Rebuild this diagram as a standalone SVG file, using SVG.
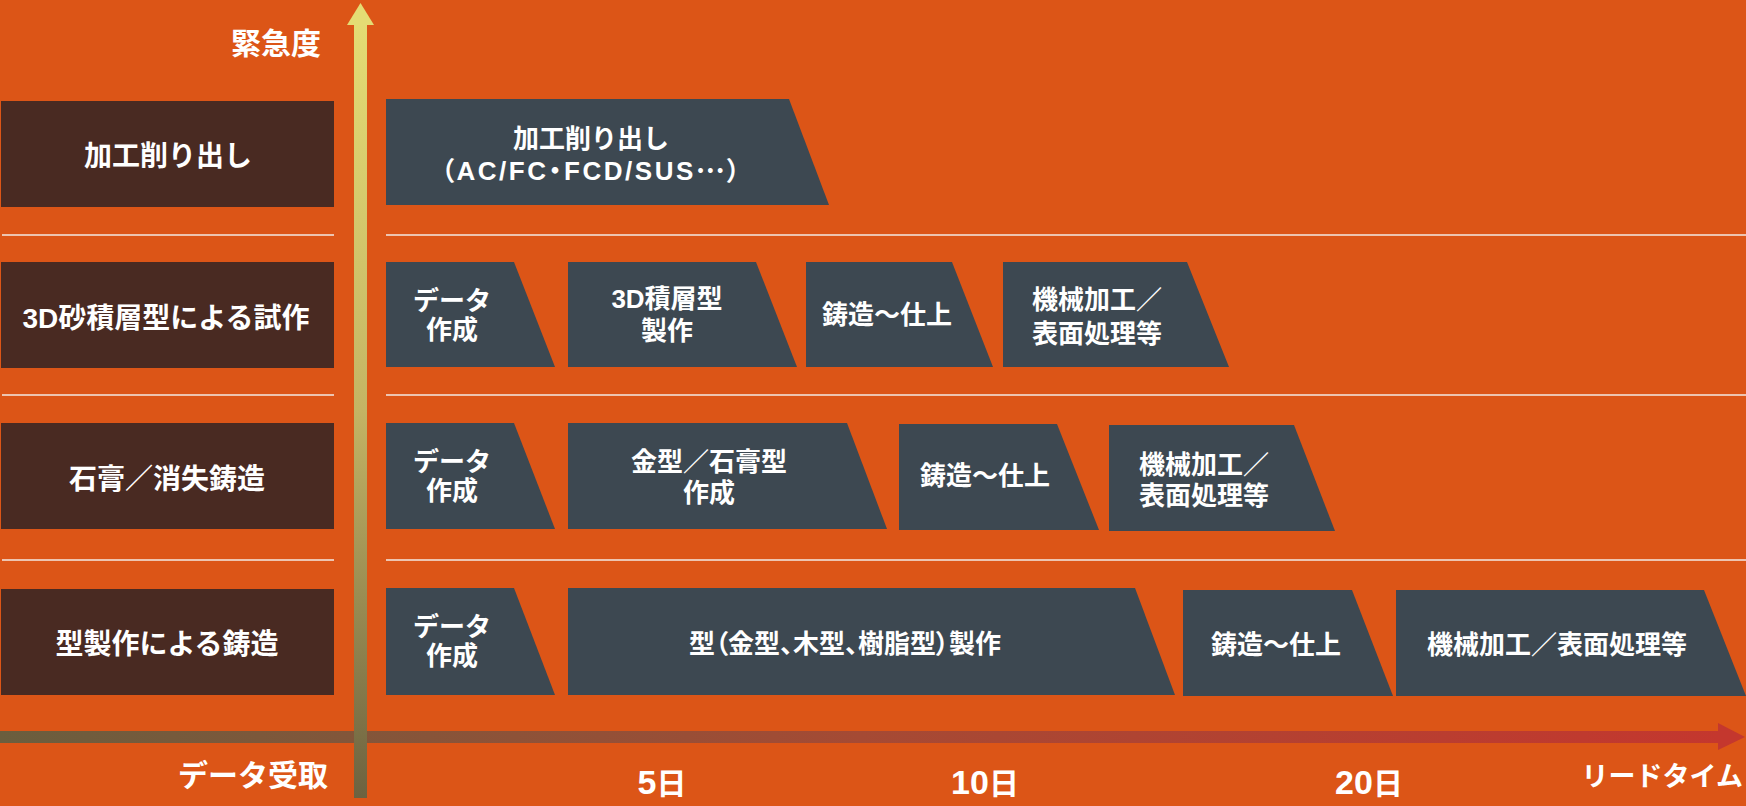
<svg xmlns="http://www.w3.org/2000/svg" width="1746" height="806" viewBox="0 0 1746 806">
<defs>
<linearGradient id="gv" x1="0" y1="0" x2="0" y2="1">
<stop offset="0" stop-color="#E4DC74"/>
<stop offset="0.5" stop-color="#C4B464"/>
<stop offset="1" stop-color="#6C6240"/>
</linearGradient>
<linearGradient id="gh" x1="0" y1="0" x2="1" y2="0">
<stop offset="0" stop-color="#6A5E3E"/>
<stop offset="0.5" stop-color="#A54A34"/>
<stop offset="1" stop-color="#C4372E"/>
</linearGradient>
<style>
.lbl{fill:#492A22}
.stp{fill:#3D4851}
.sep{stroke:#F3EAE4;stroke-width:1.5}
text{font-family:"Liberation Sans","Noto Sans CJK JP",sans-serif;font-weight:700;fill:#FFFFFF}
.cjk{font-family:"Noto Sans CJK JP",sans-serif}
.lt{font-size:28px;text-anchor:middle}
.st{font-size:26px;text-anchor:middle}
.ax{font-size:30px}
.dg{font-size:34px}
.palt{font-feature-settings:"palt"}
</style>
</defs>
<rect x="0" y="0" width="1746" height="806" fill="#DC5517"/>

<g id="separators">
<line class="sep" x1="2" y1="235" x2="334" y2="235"/>
<line class="sep" x1="386" y1="235" x2="1746" y2="235"/>
<line class="sep" x1="2" y1="395" x2="334" y2="395"/>
<line class="sep" x1="386" y1="395" x2="1746" y2="395"/>
<line class="sep" x1="2" y1="560" x2="334" y2="560"/>
<line class="sep" x1="386" y1="560" x2="1746" y2="560"/>
</g>

<g id="label-1"><rect class="lbl" x="1" y="101" width="333" height="106"/><text class="lt" x="168" y="166">加工削り出し</text></g>
<g id="label-2"><rect class="lbl" x="1" y="262" width="333" height="106"/><text class="lt" x="166" y="328">3D砂積層型による試作</text></g>
<g id="label-3"><rect class="lbl" x="1" y="423" width="333" height="106"/><text class="lt" x="167" y="489">石膏／消失鋳造</text></g>
<g id="label-4"><rect class="lbl" x="1" y="589" width="333" height="106"/><text class="lt" x="167" y="654">型製作による鋳造</text></g>

<g id="r1-b1"><polygon class="stp" points="386,99 789,99 829,205 386,205"/><text class="st" x="591" y="148">加工削り出し</text><text class="st palt" x="590.5" y="180" textLength="299" lengthAdjust="spacing">（AC/FC・FCD/SUS<tspan class="cjk" dy="-7">…</tspan><tspan dy="7">）</tspan></text></g>

<g id="r2-b1"><polygon class="stp" points="386,262 514,262 555,367 386,367"/><text class="st" x="452" y="310">データ</text><text class="st" x="452" y="339">作成</text></g>
<g id="r2-b2"><polygon class="stp" points="568,262 756,262 797,367 568,367"/><text class="st" x="667" y="308">3D積層型</text><text class="st" x="667" y="340">製作</text></g>
<g id="r2-b3"><polygon class="stp" points="806,262 952,262 993,367 806,367"/><text class="st" x="887" y="324">鋳造〜仕上</text></g>
<g id="r2-b4"><polygon class="stp" points="1003,262 1187,262 1229,367 1003,367"/><text class="st" x="1097" y="309">機械加工／</text><text class="st" x="1097" y="343">表面処理等</text></g>

<g id="r3-b1"><polygon class="stp" points="386,423 514,423 555,529 386,529"/><text class="st" x="452" y="471">データ</text><text class="st" x="452" y="500">作成</text></g>
<g id="r3-b2"><polygon class="stp" points="568,423 847,423 887,529 568,529"/><text class="st" x="709" y="471">金型／石膏型</text><text class="st" x="709" y="502">作成</text></g>
<g id="r3-b3"><polygon class="stp" points="899,424 1057,424 1099,530 899,530"/><text class="st" x="985" y="485">鋳造〜仕上</text></g>
<g id="r3-b4"><polygon class="stp" points="1109,425 1294,425 1335,531 1109,531"/><text class="st" x="1204" y="474">機械加工／</text><text class="st" x="1204" y="505">表面処理等</text></g>

<g id="r4-b1"><polygon class="stp" points="386,588 514,588 555,695 386,695"/><text class="st" x="452" y="636">データ</text><text class="st" x="452" y="665">作成</text></g>
<g id="r4-b2"><polygon class="stp" points="568,588 1135,588 1175,695 568,695"/><text class="st palt" x="845" y="653">型（金型、木型、樹脂型）製作</text></g>
<g id="r4-b3"><polygon class="stp" points="1183,590 1352,590 1393,696 1183,696"/><text class="st" x="1276" y="654">鋳造〜仕上</text></g>
<g id="r4-b4"><polygon class="stp" points="1396,590 1704,590 1746,696 1396,696"/><text class="st" x="1557" y="654">機械加工／表面処理等</text></g>

<g id="connectors">
<rect x="0" y="731" width="1720" height="12" fill="url(#gh)"/>
<polygon points="1718,723 1745,737 1718,750" fill="#C4372E"/>
<rect x="354" y="22" width="13" height="776" fill="url(#gv)"/>
<polygon points="347,25 360.5,3 374,25" fill="#E4DC74"/>
</g>

<g id="axis-labels">
<text class="ax" x="276" y="54" text-anchor="middle">緊急度</text>
<text class="ax" x="253" y="786" text-anchor="middle">データ受取</text>
<text class="ax" x="662" y="794" text-anchor="middle"><tspan class="dg">5</tspan>日</text>
<text class="ax" x="985" y="794" text-anchor="middle"><tspan class="dg">10</tspan>日</text>
<text class="ax" x="1369" y="794" text-anchor="middle"><tspan class="dg">20</tspan>日</text>
<text class="ax" x="1743" y="786" text-anchor="end" style="font-size:27px">リードタイム</text>
</g>
</svg>
